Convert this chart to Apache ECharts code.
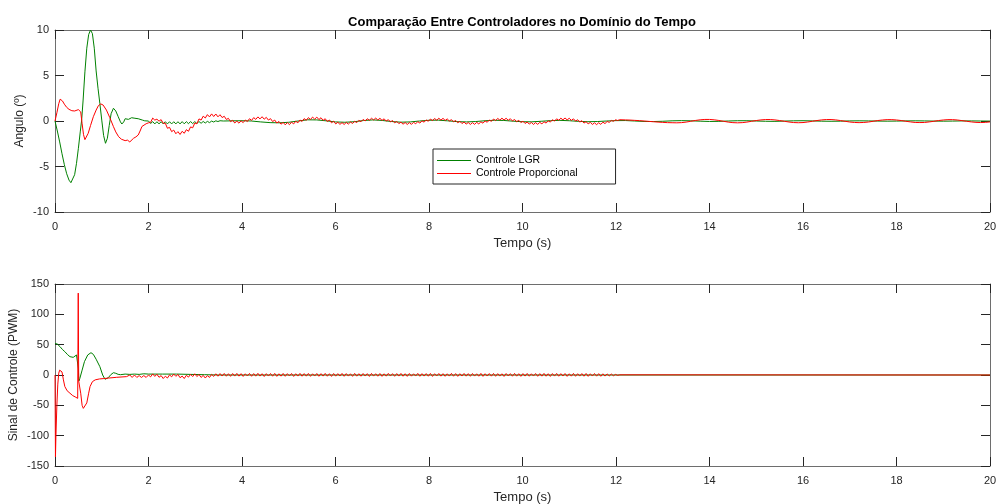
<!DOCTYPE html>
<html>
<head>
<meta charset="utf-8">
<title>Comparação Entre Controladores</title>
<script src="https://cdn.jsdelivr.net/npm/echarts@6/dist/echarts.min.js"></script>
<style>
  html, body { margin: 0; padding: 0; background: #fff; }
  #chart { width: 997px; height: 504px; }
</style>
</head>
<body>
<div id="chart"></div>
<script>
// ---- Ângulo (º): Controle LGR ----
const lgrAngleT = [0,0.05,0.1,0.15,0.2,0.25,0.3,0.34,0.38,0.42,0.46,0.5,0.54,0.57,0.6,0.64,0.68,0.72,0.76,0.8,0.84,0.88,0.92,0.96,1.0,1.04,1.08,1.12,1.16,1.2,1.25,1.3,1.35,1.4,1.43,1.47,1.5,1.53,1.57,1.6,1.64,1.67,1.71,1.74,1.78,1.82,1.87,1.92,1.96];
const lgrAngleV = [0,-1.1,-2.3,-3.6,-4.8,-5.8,-6.5,-6.78,-6.6,-5.9,-4.65,-3.0,-1.2,0.1,2.2,5.4,8.0,9.5,10.0,9.6,8.0,5.5,3.6,1.9,0.1,-1.6,-2.45,-1.9,-0.5,0.8,1.4,1.1,0.5,-0.1,-0.33,-0.1,0.25,0.36,0.18,0.3,0.36,0.2,0.3,0.2,0.25,0.15,0.1,0.02,-0.07];
// sampled every 0.045 s from t = 2.0 s
const lgrAngleRipple = [0.00,-0.27,-0.07,-0.32,-0.08,-0.32,-0.08,-0.32,-0.08,-0.32,-0.08,-0.32,-0.08,-0.32,-0.08,-0.32,-0.07,-0.31,-0.07,-0.30,-0.06,-0.28,-0.07,-0.27,-0.06,-0.25,-0.05,-0.22,-0.04,-0.18,-0.01,-0.11,0.02,-0.06,0.03];
// sampled every 0.2 s from t = 3.6 s
const lgrAngleTail = [0.0,0.02,0.03,0.0,-0.1,-0.18,-0.2,-0.14,0.0,0.13,0.12,0.02,-0.1,-0.14,-0.08,0.05,0.12,0.06,-0.06,-0.13,-0.1,0.0,0.08,0.09,0.02,-0.07,-0.1,-0.06,0.03,0.08,0.06,-0.02,-0.08,-0.09,-0.03,0.04,0.07,0.03,-0.04,-0.08,-0.06,0.0,0.04,0.05,0.0,-0.05,-0.06,-0.03,0.02,0.04,0.02,-0.02,-0.05,-0.04,0.0,0.03,0.03,0.0,-0.03,-0.04,-0.01,0.02,0.03,0.01,-0.02,-0.03,-0.02,0.01,0.02,0.01,-0.01,-0.02,-0.01,0.01,0.02,0.01,-0.01,-0.02,-0.01,0.01,0.01,0.0,-0.01];

// ---- Ângulo (º): Controle Proporcional ----
const proAngleT = [0,0.04,0.08,0.11,0.13,0.16,0.2,0.25,0.3,0.36,0.42,0.46,0.5,0.53,0.55,0.58,0.61,0.64,0.67,0.71,0.76,0.82,0.88,0.93,0.98,1.03,1.1,1.17,1.25,1.3,1.36,1.42,1.5,1.55,1.6,1.64,1.68,1.73,1.78,1.82,1.86,1.9,1.95];
const proAngleV = [0,0.9,1.9,2.4,2.5,2.2,1.85,1.5,1.28,1.13,1.1,1.13,1.25,1.35,1.0,-0.3,-1.5,-2.05,-1.9,-1.35,-0.5,0.47,1.2,1.7,1.88,1.75,1.2,0.4,-0.62,-1.2,-1.72,-2.0,-2.16,-2.1,-2.3,-2.2,-1.9,-1.75,-1.54,-1.1,-0.6,-0.44,-0.3];
// sampled every 0.045 s from t = 2.0 s
const proAngleRipple = [
  -0.20,-0.15,0.32,0.10,0.20,-0.02,0.15,-0.25,-0.25,-0.80,
  -0.70,-1.17,-1.00,-1.40,-1.17,-1.48,-1.13,-1.35,-0.95,-1.13,
  -0.65,-0.75,-0.23,-0.30,0.23,0.10,0.53,0.33,0.70,0.45,
  0.78,0.49,0.77,0.46,0.69,0.38,0.52,0.17,0.29,-0.07,
  0.08,-0.22,-0.01,-0.24,0.02,-0.18,0.11,-0.06,0.25,0.07,
  0.37,0.18,0.45,0.23,0.47,0.20,0.40,0.10,0.26,-0.06,
  0.10,-0.22,-0.05,-0.35,-0.15,-0.42,-0.18,-0.40,-0.13,-0.32,
  -0.03,-0.20,0.11,-0.05,0.26,0.08,0.37,0.17,0.43,0.20,
  0.43,0.16,0.36,0.07,0.25,-0.06,0.11,-0.20,-0.02,-0.32,
  -0.14,-0.37,-0.18,-0.38,-0.16,-0.34,-0.11,-0.27,-0.03,-0.18,
  0.07,-0.08,0.17,0.01,0.25,0.08,0.30,0.12,0.32,0.11,
  0.30,0.07,0.24,-0.01,0.15,-0.10,0.05,-0.20,-0.05,-0.29,
  -0.13,-0.35,-0.17,-0.38,-0.18,-0.37,-0.14,-0.31,-0.07,-0.23,
  0.02,-0.13,0.12,-0.03,0.21,0.05,0.27,0.09,0.30,0.10,
  0.29,0.06,0.23,0.00,0.15,-0.09,0.06,-0.19,-0.03,-0.28,
  -0.11,-0.34,-0.17,-0.38,-0.18,-0.37,-0.15,-0.32,-0.09,-0.24,
  0.01,-0.14,0.11,-0.04,0.21,0.05,0.28,0.10,0.31,0.11,
  0.30,0.08,0.25,0.01,0.17,-0.08,0.08,-0.17,-0.02,-0.27,
  -0.11,-0.34,-0.16,-0.38,-0.18,-0.37,-0.15,-0.32,-0.08,-0.23,
  0.02,-0.12,0.14,-0.01,0.24,0.08,0.31,0.13,0.33,0.12,
  0.30,0.07,0.24,-0.01,0.14,-0.12,0.03,-0.23,-0.07,-0.32,
  -0.15,-0.38,-0.20,-0.40,-0.19,-0.37,-0.13,-0.28,-0.05,-0.15,
  0.06,-0.03,0.13,0.06,0.14
];
// sampled every 0.1 s from t = 12.2 s
const proAngleTail = [
  0.12,0.10,0.07,0.04,0.0,-0.04,-0.08,-0.12,-0.15,-0.18,-0.19,-0.20,
  -0.18,-0.12,-0.03,0.06,0.13,0.17,0.17,0.13,0.06,-0.03,-0.12,-0.18,-0.20,
  -0.18,-0.12,-0.03,0.05,0.12,0.16,0.16,0.12,0.05,-0.03,-0.11,-0.17,-0.19,
  -0.17,-0.11,-0.03,0.05,0.12,0.16,0.16,0.12,0.05,-0.03,-0.11,-0.16,-0.18,
  -0.16,-0.11,-0.03,0.05,0.11,0.15,0.15,0.11,0.05,-0.03,-0.10,-0.16,-0.17,
  -0.16,-0.10,-0.03,0.05,0.11,0.15,0.15,0.11,0.04,-0.03,-0.10,-0.15,-0.17,
  -0.15,-0.10
];

// ---- Sinal de Controle (PWM): Controle LGR ----
const lgrCtrlT = [0,0.05,0.107,0.16,0.21,0.27,0.32,0.36,0.39,0.43,0.46,0.49,0.5,0.51,0.53,0.58,0.63,0.7,0.77,0.82,0.88,0.96,1.02,1.07,1.1,1.14,1.2,1.25,1.3,1.35,1.4,1.5,1.6,1.7,1.8,1.9,2.0,2.3,2.6,2.9,3.2,3.5,20];
const lgrCtrlV = [52,51,46.7,42,38.5,33.5,30.2,29,29.1,31,33,35.5,10,-10,-6,8,22,33,36.8,34,26,13.7,0,-7.1,-6.5,-4.4,1,3.8,2.8,1.1,0.5,1.5,1,1.5,1,2,1.5,1.5,1.5,1,0.5,0,0];

// ---- Sinal de Controle (PWM): Controle Proporcional ----
const proCtrlT = [0,0.01,0.02,0.04,0.06,0.08,0.1,0.128,0.15,0.18,0.21,0.26,0.32,0.38,0.43,0.485,0.497,0.507,0.52,0.55,0.58,0.606,0.64,0.68,0.72,0.75,0.8,0.86,0.95,1.03,1.15,1.32,1.53,1.6,1.65,1.7,1.75,1.8,1.85,1.9,1.95];
const proCtrlV = [0,-135,-100,-50,-15,3,8,9.3,5,-8,-19,-26,-30,-34,-36,-38.5,135,-10,-8,-30,-50,-55,-52,-46,-30,-19,-11,-8,-6.5,-6,-5,-3.8,-2.7,0,-4,0,-4,-1,-4,-1,-4];
// sampled every 0.045 s from t = 2.0 s
const proCtrlRipple = [
  0,-3,1.8,-2.3,1.2,-3.8,-1,-5.8,-2,-5,0.2,-3,1.5,-2.2,1,-4.5,-1.8,-5.8,-0.5,-3.5,1,-2.5,2,-2.5,0.8,-4,-0.6,-5,-1,-4,1,-2.3,2,
  -2.0,2.3,-1.7,2.5,-2.0,2.1,-2.2,2.4,-1.8,2.6,
  -1.9,2.2,-2.3,2.0,-1.6,2.5,-2.1,2.3,-1.9,2.7,
  -1.8,2.1,-2.4,2.2,-1.7,2.4,-2.0,2.6,-2.2,2.0,
  -1.9,2.5,-2.1,2.2,-1.6,2.4,-2.3,2.1,-1.8,2.6,
  -2.0,2.3,-1.9,2.5,-2.2,2.0,-1.7,2.4,-2.1,2.2,
  -1.8,2.6,-2.0,2.1,-2.3,2.4,-1.9,2.2,-1.7,2.5,
  -2.1,2.3,-1.8,2.0,-2.2,2.6,-1.9,2.1,-2.0,2.4,
  -1.7,2.2,-2.3,2.5,-1.8,2.1,-2.0,2.4,-2.2,2.0,
  -1.9,2.6,-1.7,2.2,-2.1,2.3,-1.8,2.5,-2.0,2.1,
  -2.2,2.4,-1.9,2.0,-1.7,2.6,-2.1,2.2,-1.8,2.3,
  -2.0,2.5,-2.3,2.1,-1.6,2.4,-1.9,2.2,-2.1,2.0,
  -1.8,2.6,-2.0,2.3,-2.2,2.1,-1.7,2.5,-1.9,2.2,
  -2.1,2.4,-1.8,2.0,-2.0,2.6,-2.2,2.1,-1.7,2.3,
  -1.9,2.5,-2.1,2.2,-1.8,2.0,-2.3,2.4,-1.6,2.2,
  -2.0,2.6,-1.9,2.1,-2.2,2.3,-1.8,2.5,-2.0,2.0,
  -1.7,2.4,-2.1,2.2,-1.9,2.6,-2.0,2.1,-2.3,2.3,
  -1.8,2.5,-2.0,2.2,-1.7,2.4,-2.2,2.0,-1.9,2.6,
  -2.1,2.1,-1.8,2.3,-2.0,2.5,-2.2,2.0,-1.7,2.4,
  -1.9,2.2,-2.1,2.0,-1.8,1.8,-1.5,1.5,-1.2,1.0,
  -0.6,0.3
];
const proCtrlTailT = [12.12, 20];
const proCtrlTailV = [0, 0];

// axis ticks
const timeTicks = { min: 0, max: 20, step: 2 };
const angleTicks = { min: -10, max: 10, step: 5 };
const ctrlTicks = { min: -150, max: 150, step: 50 };

const NAMES = ['Controle LGR', 'Controle Proporcional'];
const GREEN = '#008000';
const RED = '#ff0000';
const FONT = '"Liberation Sans", Arial, Helvetica, sans-serif';
const INK = '#262626';

function zip(ts, vs) {
  return ts.map((t, i) => [t, vs[i]]);
}
function sampled(t0, dt, vs) {
  return vs.map((v, i) => [+(t0 + i * dt).toFixed(4), v]);
}

const lgrAngle = zip(lgrAngleT, lgrAngleV)
  .concat(sampled(2.0, 0.045, lgrAngleRipple))
  .concat(sampled(3.6, 0.2, lgrAngleTail));
const proAngle = zip(proAngleT, proAngleV)
  .concat(sampled(2.0, 0.045, proAngleRipple))
  .concat(sampled(12.2, 0.1, proAngleTail));
const lgrCtrl = zip(lgrCtrlT, lgrCtrlV);
const proCtrl = zip(proCtrlT, proCtrlV)
  .concat(sampled(2.0, 0.045, proCtrlRipple))
  .concat(zip(proCtrlTailT, proCtrlTailV));

function xAxisPair(gridIndex) {
  const common = {
    type: 'value', gridIndex,
    min: timeTicks.min, max: timeTicks.max, interval: timeTicks.step,
    splitLine: { show: false },
    axisLine: { show: true, onZero: false, lineStyle: { color: '#6e6e6e', width: 1 } },
    axisTick: { show: true, inside: true, length: 9, lineStyle: { color: INK } }
  };
  return [
    Object.assign({}, common, {
      position: 'bottom',
      axisLabel: { color: INK, fontSize: 11, fontFamily: FONT, margin: 9 },
      name: 'Tempo (s)', nameLocation: 'middle', nameGap: 25, nameMoveOverlap: false,
      nameTextStyle: { color: INK, fontSize: 13, fontFamily: FONT }
    }),
    Object.assign({}, common, { position: 'top', axisLabel: { show: false } })
  ];
}
function yAxisPair(gridIndex, ticks, name, nameGap) {
  const common = {
    type: 'value', gridIndex,
    min: ticks.min, max: ticks.max, interval: ticks.step,
    splitLine: { show: false },
    axisLine: { show: true, onZero: false, lineStyle: { color: '#6e6e6e', width: 1 } },
    axisTick: { show: true, inside: true, length: 9, lineStyle: { color: INK } }
  };
  return [
    Object.assign({}, common, {
      position: 'left',
      axisLabel: { color: INK, fontSize: 11, fontFamily: FONT, margin: 6 },
      name, nameLocation: 'middle', nameGap, nameMoveOverlap: false,
      nameTextStyle: { color: INK, fontSize: 12, fontFamily: FONT }
    }),
    Object.assign({}, common, { position: 'right', axisLabel: { show: false } })
  ];
}

function line(name, color, data, xi, yi) {
  return {
    name, type: 'line', data,
    xAxisIndex: xi, yAxisIndex: yi,
    symbol: 'none', showSymbol: false, smooth: false,
    lineStyle: { color, width: 1 },
    itemStyle: { color },
    clip: true, animation: false
  };
}

const chart = echarts.init(document.getElementById('chart'), null, { renderer: 'canvas' });
chart.setOption({
  backgroundColor: '#ffffff',
  animation: false,
  title: {
    text: 'Comparação Entre Controladores no Domínio do Tempo',
    left: 517, top: 11, textAlign: 'center',
    textStyle: { fontSize: 13, fontWeight: 'bold', color: '#000', fontFamily: FONT }
  },
  legend: {
    data: NAMES,
    orient: 'vertical',
    left: 433, top: 149,
    icon: 'path://M0,0H34V1.2H0Z',
    itemWidth: 34, itemHeight: 10, itemGap: 2,
    padding: [6, 38, 5, 4],
    backgroundColor: '#ffffff',
    borderColor: INK, borderWidth: 1, borderRadius: 0,
    textStyle: { fontSize: 10.5, color: '#000', fontFamily: FONT },
    selectedMode: false
  },
  grid: [
    { left: 55, right: 7, top: 30, height: 182, outerBoundsMode: 'none', containLabel: false },
    { left: 55, right: 7, top: 284, height: 182, outerBoundsMode: 'none', containLabel: false }
  ],
  xAxis: xAxisPair(0).concat(xAxisPair(1)),
  yAxis: yAxisPair(0, angleTicks, 'Angulo (º)', 29)
    .concat(yAxisPair(1, ctrlTicks, 'Sinal de Controle (PWM)', 35)),
  series: [
    line(NAMES[0], GREEN, lgrAngle, 0, 0),
    line(NAMES[1], RED, proAngle, 0, 0),
    line(NAMES[0], GREEN, lgrCtrl, 2, 2),
    line(NAMES[1], RED, proCtrl, 2, 2)
  ]
});
</script>
</body>
</html>
